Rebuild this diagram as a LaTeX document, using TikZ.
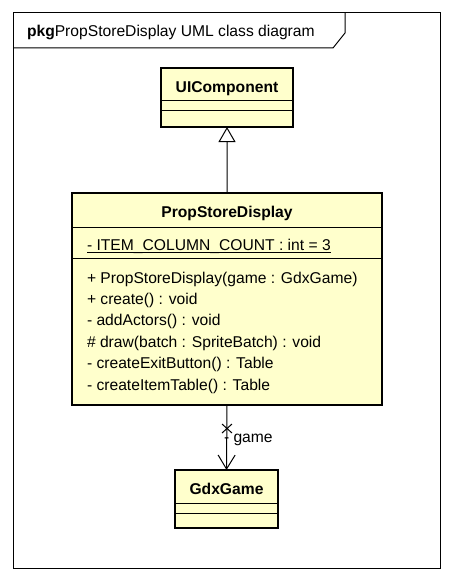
\documentclass[tikz,border=0pt]{standalone}
\usepackage{fontspec}
\setmainfont{Liberation Sans}
\usetikzlibrary{arrows.meta}
\definecolor{clsfill}{RGB}{255,255,204}
\begin{document}
\begin{tikzpicture}[x=1bp,y=-1bp,
  every node/.style={font=\fontsize{15.7}{18}\selectfont, inner sep=0pt, outer sep=0pt},
  clsbox/.style={draw, line width=2.5bp, fill=clsfill, anchor=north west, rectangle},
  sep/.style={line width=1bp},
  txt/.style={anchor=base west},
  cname/.style={anchor=base, font=\fontsize{15.7}{18}\selectfont\bfseries},
  thin/.style={line width=1bp},
  ]
\useasboundingbox[fill=white] (0,0) rectangle (453,581);
% frame
\draw[thin] (13,13) rectangle (440,568);
\draw[thin] (13,48) -- (333,48) -- (345,33) -- (345,13);
\node[txt] (title) at (27,37) {\textbf{pkg}PropStoreDisplay UML class diagram};
% UIComponent
\node[clsbox, minimum width=132bp, minimum height=59bp] (ui) at (161,68) {};
\draw[sep] (161,101) -- (293,101);
\draw[sep] (161,111) -- (293,111);
\node[cname] (uiname) at (227,93) {UIComponent};
% PropStoreDisplay
\node[clsbox, minimum width=310bp, minimum height=212bp] (psd) at (72,193) {};
\draw[sep] (72,227) -- (382,227);
\draw[sep] (72,258) -- (382,258);
\node[cname] (psdname) at (227,217) {PropStoreDisplay};
\node[txt] (attr) at (87,250) {- ITEM\_COLUMN\_COUNT : int = 3};
\draw[thin] ([yshift=-2.8bp]attr.base west) -- ([yshift=-2.8bp]attr.base east);
\node[txt] (op1) at (87,283) {+ PropStoreDisplay(game : GdxGame)};
\node[txt] (op2) at (87,304.4) {+ create() : void};
\node[txt] (op3) at (87,325.8) {- addActors() : void};
\node[txt] (op4) at (87,347.2) {\# draw(batch : SpriteBatch) : void};
\node[txt] (op5) at (87,368.6) {- createExitButton() : Table};
\node[txt] (op6) at (87,390) {- createItemTable() : Table};
% GdxGame
\node[clsbox, minimum width=103bp, minimum height=58bp] (gdx) at (175,470) {};
\draw[sep] (175,503) -- (278,503);
\draw[sep] (175,513) -- (278,513);
\node[cname] (gdxname) at (226.5,494) {GdxGame};
% generalization
\draw[thin, -{Triangle[open, length=15bp, width=17bp, line width=1bp]}] (psd.north) -- (ui.south);
% association
\draw[thin, -{Straight Barb[length=14bp, width=17bp, line width=1bp]}] (psd.south) -- (gdx.north);
\draw[thin] (222,424) -- (232,433) (222,433) -- (232,424);
\node[txt] (role) at (224,442) {- game};
\end{tikzpicture}
\end{document}
